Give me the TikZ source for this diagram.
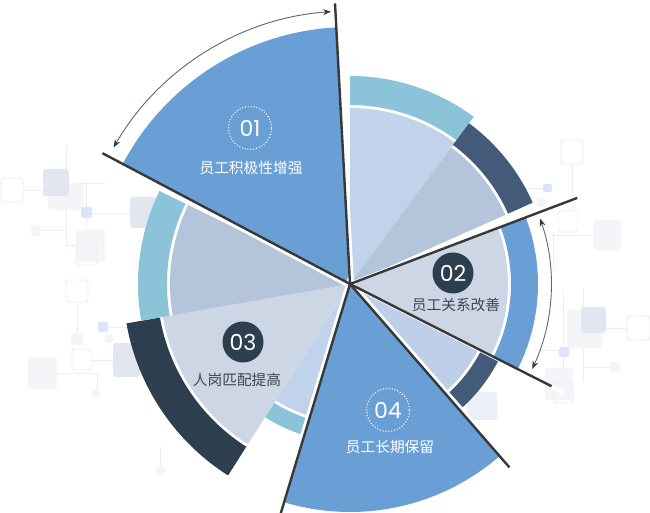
\documentclass[tikz,border=0pt]{standalone}
\usepackage{fontspec}
\newfontfamily\cjk{Noto Sans CJK SC}
\newfontfamily\numfont{Poppins}
\usetikzlibrary{arrows.meta}
\definecolor{mblue}{HTML}{6A9FD6}
\definecolor{teal}{HTML}{8BC4D8}
\definecolor{slate}{HTML}{435A78}
\definecolor{navy}{HTML}{2D3E4F}
\definecolor{fillA}{HTML}{C0D3EA}
\definecolor{fillB}{HTML}{B4C5DB}
\definecolor{fillG}{HTML}{CDD6E4}
\definecolor{fillC}{HTML}{BED0E8}
\definecolor{sepcol}{HTML}{383838}
\definecolor{arrcol}{HTML}{5A6878}
\definecolor{labgray}{HTML}{3E4652}
\definecolor{dkfill}{HTML}{E1E6F1}
\definecolor{ltfill}{HTML}{F4F5F9}
\definecolor{blfill}{HTML}{DCE5F7}
\definecolor{dkline}{HTML}{EBEDF5}
\newcommand\wedgefill[4]{\fill[#1] (c) -- ([shift={(#2:#4)}]c) arc[start angle=#2,end angle=#3,radius=#4] -- cycle;}
\newcommand\bandfill[5]{\fill[#1] ([shift={(#2:#4)}]c) arc[start angle=#2,end angle=#3,radius=#4] -- ([shift={(#3:#5)}]c) arc[start angle=#3,end angle=#2,radius=#5] -- cycle;}
\tikzset{
  sepline/.style={draw=sepcol, line width=2.4pt},
  whiteedge/.style={draw=white, line width=#1, line join=miter},
  arcarrow/.style={draw=arrcol, line width=0.9pt, {Stealth[length=8pt,width=6pt,color=navy]}-{Stealth[length=8pt,width=6pt,color=navy]}},
  dotc/.style={circle, draw=white, line width=1.1pt, dash pattern=on 1pt off 1.9pt, minimum size=43pt, inner sep=0pt, text=white, font=\numfont\fontsize{22}{22}\selectfont},
  darkc/.style={circle, fill=navy, minimum size=41pt, inner sep=0pt, text=white, font=\numfont\fontsize{22}{22}\selectfont},
  labw/.style={text=white, font=\cjk\fontsize{14.7}{16}\selectfont, inner sep=0pt},
  labd/.style={text=labgray, font=\cjk\fontsize{14.7}{16}\selectfont, inner sep=0pt},
  dbox/.style={draw=dkline, line width=0.9pt, rounded corners=3pt},
  dline/.style={draw=dkline, line width=0.8pt},
}
\begin{document}
\begin{tikzpicture}[x=1pt,y=1pt]
\useasboundingbox (0,0) rectangle (650,513);
\fill[white] (0,0) rectangle (650,513);
% background decoration (image coordinates)
\begin{scope}[shift={(0,513)}, yscale=-1]
  \draw[dline] (23,190) -- (43,190) (69,183) -- (105,183) (86,183) -- (86,243)
    (66,145) -- (66,245) -- (76,245) (92,213) -- (130,213) (40,230) -- (66,230)
    (77,302) -- (77,333) (108,327) -- (135,327) (92,360) -- (113,360)
    (57,373) -- (97,373) -- (97,390) (160,447) -- (160,468)
    (520,188) -- (543,188) (572,164) -- (572,211) (552,235) -- (593,235) (553,232) -- (553,270)
    (606,328) -- (627,328) (535,350) -- (559,350) (583,288) -- (583,382) (583,367) -- (610,367)
    (563,290) -- (563,382);
  \fill[ltfill, rounded corners=3pt] (48,183) rectangle (83,210);
  \fill[dkfill, rounded corners=3pt] (43,169) rectangle (69,196);
  \draw[dbox] (1,178) rectangle (23,202);
  \fill[blfill, rounded corners=2pt] (81,207) rectangle (92,218);
  \fill[ltfill, rounded corners=3pt] (76,230) rectangle (105,262);
  \draw[dbox] (76,243) rectangle (97,265);
  \fill[ltfill, rounded corners=2pt] (31,226) rectangle (40,236);
  \fill[dkfill, rounded corners=3pt] (130,197) rectangle (157,228);
  \draw[dbox] (66,280) rectangle (88,302);
  \fill[ltfill, rounded corners=2pt] (71,333) rectangle (83,345);
  \fill[blfill, rounded corners=2pt] (98,322) rectangle (108,332);
  \fill[ltfill, rounded corners=2pt] (105,335) rectangle (113,343);
  \draw[dbox] (72,349) rectangle (92,370);
  \fill[dkfill, rounded corners=3pt] (113,343) rectangle (140,377);
  \fill[ltfill, rounded corners=3pt] (28,358) rectangle (57,389);
  \fill[ltfill, rounded corners=2pt] (92,390) rectangle (100,398);
  \fill[ltfill, rounded corners=2pt] (155,467) rectangle (165,475);
  \draw[dbox] (561,140) rectangle (583,164);
  \fill[blfill, rounded corners=2pt] (543,184) rectangle (552,192);
  \fill[ltfill, rounded corners=2pt] (537,198) rectangle (546,207);
  \draw[dbox] (558,211) rectangle (578,232);
  \fill[ltfill, rounded corners=3pt] (593,220) rectangle (621,250);
  \fill[ltfill, rounded corners=3pt] (567,310) rectangle (602,348);
  \fill[dkfill, rounded corners=3pt] (581,307) rectangle (606,333);
  \draw[dbox] (627,316) rectangle (650,340);
  \fill[blfill, rounded corners=2pt] (559,347) rectangle (569,357);
  \fill[ltfill, rounded corners=2pt] (610,362) rectangle (620,372);
  \fill[ltfill, rounded corners=3pt] (545,368) rectangle (573,400);
  \draw[dbox] (554,382) rectangle (573,403);
  \fill[blfill!60, rounded corners=3pt] (467,392) rectangle (497,420);
\end{scope}
\coordinate (c) at (350,229);
% slices
\wedgefill{fillA}{90}{53.5}{176pt}
\bandfill{teal}{90}{53.5}{179pt}{208pt}
\wedgefill{fillB}{53.5}{24}{170pt}
\bandfill{slate}{53.5}{24}{173pt}{200pt}
\wedgefill{fillC}{-27}{-49}{144pt}
\bandfill{slate}{-27}{-49}{147pt}{167pt}
\wedgefill{fillA}{-107}{-122.5}{138pt}
\bandfill{teal}{-107}{-122.5}{141pt}{158pt}
\wedgefill{fillG}{-122.5}{-170}{190pt}
\bandfill{navy}{-122.5}{-170}{193pt}{227pt}
\wedgefill{fillB}{-170}{-206}{180pt}
\bandfill{teal}{-170}{-206}{183pt}{212pt}
% slice 02
\draw[whiteedge=4pt] ([shift={(20.75:240pt)}]c) -- (c) -- ([shift={(-26.9:240pt)}]c);
\wedgefill{fillG}{20.75}{-26.9}{158pt}
\bandfill{mblue}{20.75}{-26.9}{161pt}{188pt}
% sector 01
\draw[whiteedge=8pt] ([shift={(93.06:257pt)}]c) -- (c) -- ([shift={(152.15:257pt)}]c);
\wedgefill{mblue}{93.06}{152.15}{257pt}
% sector 04
\draw[whiteedge=8pt] ([shift={(-49:228pt)}]c) -- (c) -- ([shift={(-106.8:228pt)}]c);
\wedgefill{mblue}{-49}{-106.8}{228pt}
% separator lines
\coordinate (l1) at ([shift={(93.06:281pt)}]c);
\coordinate (l2) at ([shift={(152.15:280pt)}]c);
\coordinate (l3) at ([shift={(20.75:243pt)}]c);
\coordinate (l4) at ([shift={(-26.9:226pt)}]c);
\coordinate (l5) at ([shift={(-49:243pt)}]c);
\coordinate (l6) at ([shift={(-106.8:240pt)}]c);
\foreach \e in {l1,l2,l3,l4,l5,l6} \draw[sepline] (c) -- (\e);
% arc arrows
\draw[arcarrow] ([shift={(94:273pt)}]c) arc[start angle=94, end angle=150, radius=273pt];
\draw[arcarrow] ([shift={(19:201pt)}]c) arc[start angle=19, end angle=-25, radius=201pt];
% labels
\node[dotc] (n1) at (250,385) {01};
\node[labw] (t1) at (251,345) {员工积极性增强};
\node[darkc] (n2) at (453,240) {02};
\node[labd] (t2) at (456,208) {员工关系改善};
\node[darkc] (n3) at (243,171) {03};
\node[labd] (t3) at (237,133) {人岗匹配提高};
\node[dotc] (n4) at (388,103) {04};
\node[labw] (t4) at (390,66) {员工长期保留};
\end{tikzpicture}
\end{document}
